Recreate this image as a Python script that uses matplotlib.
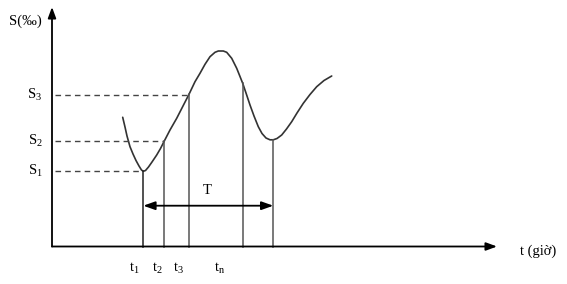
import matplotlib.pyplot as plt

plt.rcParams['font.family'] = ['Liberation Serif', 'DejaVu Serif']
plt.rcParams['mathtext.fontset'] = 'stix'

# curve (diagram units = pixels, y down)
curve_x = [122.7, 125.0, 127.0, 130.0, 133.0, 136.0, 139.0, 141.5, 143.3, 145.5,
           148.5, 152.0, 156.7, 160.5, 164.3, 170.0, 176.7, 183.0, 189.0, 195.0,
           200.0, 205.0, 210.0, 215.0, 218.3, 223.3, 226.7, 231.7, 236.7, 240.0,
           242.7, 246.0, 250.0, 254.0, 258.3, 262.0, 266.0, 270.0, 273.3, 277.0,
           281.7, 286.5, 291.7, 297.0, 303.3, 310.0, 316.7, 324.0, 331.7]
curve_y = [117.3, 127.0, 136.0, 146.7, 154.0, 160.5, 166.0, 170.0, 171.3, 170.5,
           167.0, 162.0, 155.0, 148.5, 141.0, 130.0, 118.3, 106.0, 94.3, 81.7,
           73.3, 64.3, 56.7, 52.3, 51.0, 51.0, 52.3, 58.3, 68.3, 76.5,
           83.3, 93.0, 105.0, 116.0, 126.7, 133.5, 138.0, 139.8, 139.8, 138.5,
           135.0, 129.0, 121.7, 113.0, 103.3, 94.5, 86.7, 80.5, 76.0]

# levels S1..S3 and the points where they touch the curve
s_labels = [r'$\mathregular{S_1}$', r'$\mathregular{S_2}$', r'$\mathregular{S_3}$']
s_level = [171.0, 141.0, 94.5]
s_x = [142.3, 164.3, 189.0]

# vertical markers under the curve
vline_x = [143.3, 164.3, 189.0, 242.7, 273.3]
vline_top = [171.3, 141.0, 94.3, 83.3, 139.8]
vline_col = ['#222222', '#555555', '#555555', '#555555', '#555555']

t_labels = [r'$\mathregular{t_1}$', r'$\mathregular{t_2}$', r'$\mathregular{t_3}$',
            r'$\mathregular{t_n}$']
t_pos = [134, 157, 178, 219.5]

origin = (52, 246.5)
x_end = 497
y_end = 7
period = (143.3, 273.3, 205.7)

fig = plt.figure(figsize=(5.67, 2.84), dpi=100)
ax = fig.add_axes([0, 0, 1, 1])
ax.set_xlim(0, 567)
ax.set_ylim(284, 0)
ax.axis('off')

# axes with arrows
arrow = dict(arrowstyle='-|>,head_length=0.65,head_width=0.24', color='black',
             lw=1.3, shrinkA=0, shrinkB=0)
ax.annotate('', xy=(x_end, origin[1]), xytext=origin, arrowprops=arrow)
ax.annotate('', xy=(origin[0], y_end), xytext=origin, arrowprops=arrow)

ax.plot(curve_x, curve_y, color='#333333', lw=1.2, solid_joinstyle='round',
        solid_capstyle='round')

for lvl, sx, lab in zip(s_level, s_x, s_labels):
    ax.plot([55, sx], [lvl, lvl], color='#444444', lw=1.0, ls=(0, (4, 3)))
    ax.text(35, lvl, lab, ha='center', va='center', fontsize=10.5)

for vx, vt, c in zip(vline_x, vline_top, vline_col):
    ax.plot([vx, vx], [vt, origin[1]], color=c, lw=1.1)

# period T
ax.annotate('', xy=(period[0], period[2]), xytext=(period[1], period[2]),
            arrowprops=dict(arrowstyle='<|-|>,head_length=0.7,head_width=0.25',
                            color='black', lw=1.3, shrinkA=0, shrinkB=0))
ax.text(207, 191, 'T', ha='center', va='center', fontsize=10.5)

for tp, lab in zip(t_pos, t_labels):
    ax.text(tp, 268, lab, ha='center', va='center', fontsize=10.5)

ax.text(25, 21, 'S(‰)', ha='center', va='center', fontsize=10.5)
ax.text(538, 251, 't (giờ)', ha='center', va='center', fontsize=10.5)

fig.savefig('out.png', dpi=100)
